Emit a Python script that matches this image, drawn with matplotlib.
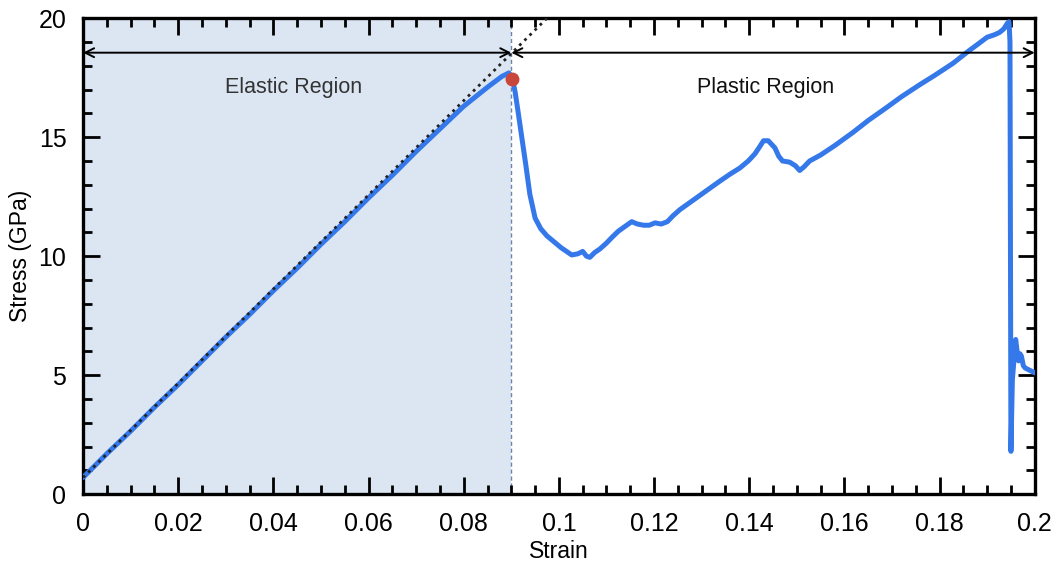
import matplotlib
matplotlib.use("Agg")
import matplotlib.pyplot as plt
from matplotlib.ticker import MultipleLocator

plt.rcParams['font.family'] = ['Liberation Sans', 'DejaVu Sans']

# Elastic part of the stress-strain curve
strain_elastic = [0.0, 0.005, 0.01, 0.015, 0.02, 0.025, 0.03, 0.035, 0.04, 0.045,
                  0.05, 0.055, 0.06, 0.065, 0.07, 0.075, 0.08, 0.085, 0.088, 0.0895, 0.0902]
stress_elastic = [0.7, 1.7, 2.65, 3.65, 4.6, 5.6, 6.6, 7.55, 8.55, 9.5,
                  10.5, 11.45, 12.45, 13.4, 14.4, 15.35, 16.3, 17.1, 17.55, 17.7, 17.5]

# Plastic part
strain_plastic = [0.0902, 0.0908, 0.0914, 0.0922, 0.0930, 0.0939, 0.0950, 0.0962, 0.0975,
                  0.0990, 0.1005, 0.1027, 0.1040, 0.1050, 0.1058, 0.1065, 0.1075, 0.1086,
                  0.1100, 0.1112, 0.1125, 0.1139, 0.1153, 0.1165, 0.1178, 0.1190, 0.1202,
                  0.1215, 0.1228, 0.1240, 0.1254, 0.1275, 0.1296, 0.1317, 0.1338, 0.1360,
                  0.1380, 0.1398, 0.1412, 0.1422, 0.1430, 0.1440, 0.1454, 0.1462, 0.1470,
                  0.1485, 0.1497, 0.1506, 0.1515, 0.1527, 0.1550, 0.1580, 0.1618, 0.1650,
                  0.1689, 0.1720, 0.1758, 0.1790, 0.1828, 0.1863, 0.1880, 0.1900, 0.1915,
                  0.1926, 0.1935, 0.1943, 0.1946, 0.1948, 0.1950,
                  0.1953, 0.1957, 0.1960, 0.1963, 0.1966, 0.1969, 0.1972, 0.1976, 0.1980,
                  0.1990, 0.2000]
stress_plastic = [17.5, 16.9, 16.1, 15.0, 13.9, 12.6, 11.6, 11.15, 10.85,
                  10.6, 10.35, 10.05, 10.1, 10.2, 10.0, 9.95, 10.15, 10.3,
                  10.55, 10.8, 11.05, 11.25, 11.45, 11.35, 11.3, 11.3, 11.4,
                  11.35, 11.45, 11.7, 11.95, 12.25, 12.55, 12.85, 13.15, 13.45,
                  13.7, 14.0, 14.3, 14.6, 14.85, 14.85, 14.55, 14.2, 14.0,
                  13.95, 13.8, 13.6, 13.75, 14.0, 14.25, 14.65, 15.2, 15.7,
                  16.25, 16.7, 17.2, 17.6, 18.1, 18.65, 18.9, 19.2, 19.3,
                  19.4, 19.55, 19.8, 19.85, 19.0, 1.8,
                  4.8, 5.8, 6.5, 6.0, 5.6, 5.9, 5.8, 5.4, 5.3,
                  5.2, 5.1]

# Linear fit (dotted) and yield point
fit_strain = [0.0, 0.0975]
fit_stress = [0.7, 20.0]
yield_strain = 0.0902
yield_stress = 17.45
elastic_limit = 0.09
arrow_y = 18.55

xticks = [0, 0.02, 0.04, 0.06, 0.08, 0.1, 0.12, 0.14, 0.16, 0.18, 0.2]
xticklabels = ['0', '0.02', '0.04', '0.06', '0.08', '0.1', '0.12', '0.14', '0.16', '0.18', '0.2']
yticks = [0, 5, 10, 15, 20]

fig = plt.figure(figsize=(10.58, 5.68), dpi=100)
ax = fig.add_axes([0.0785, 0.130, 0.8995, 0.838])

ax.axvspan(0, elastic_limit, color='#dce6f3', zorder=0, lw=0)
ax.axvline(elastic_limit, color='#6a86a8', lw=1.0, ls=(0, (3, 2)), zorder=1)

strain_all = strain_elastic + strain_plastic[1:]
stress_all = stress_elastic + stress_plastic[1:]
ax.plot(strain_all, stress_all, color='#3578ea', lw=3.6, solid_joinstyle='round',
        solid_capstyle='round', zorder=3)
ax.plot(fit_strain, fit_stress, color='#222222', lw=2.0, ls=(0, (1, 1.6)), zorder=4,
        clip_on=True)
ax.plot([yield_strain], [yield_stress], 'o', color='#c9463d', ms=9, zorder=5)

arrow_kw = dict(arrowstyle='<->', color='black', lw=1.4, mutation_scale=16,
                shrinkA=0, shrinkB=0)
ax.annotate('', xy=(0, arrow_y), xytext=(elastic_limit, arrow_y), arrowprops=arrow_kw, zorder=6)
ax.annotate('', xy=(elastic_limit, arrow_y), xytext=(0.2, arrow_y), arrowprops=arrow_kw, zorder=6)

ax.text(0.0443, 17.1, 'Elastic Region', ha='center', va='center', fontsize=15.5, color='#333333')
ax.text(0.1435, 17.1, 'Plastic Region', ha='center', va='center', fontsize=15.5, color='#111111')

ax.set_xlim(0, 0.2)
ax.set_ylim(0, 20)
ax.set_xticks(xticks)
ax.set_xticklabels(xticklabels)
ax.set_yticks(yticks)
ax.xaxis.set_minor_locator(MultipleLocator(0.005))
ax.yaxis.set_minor_locator(MultipleLocator(1))
ax.tick_params(which='both', direction='in', top=True, right=True, width=2.0,
               labelsize=18, colors='black')
ax.tick_params(axis='x', which='major', length=12, pad=13)
ax.tick_params(axis='y', which='major', length=12, pad=12)
ax.tick_params(which='minor', length=6.5)
for s in ax.spines.values():
    s.set_linewidth(2.4)

ax.set_xlabel('Strain', fontsize=16.5, labelpad=3)
ax.set_ylabel('Stress (GPa)', fontsize=16.5, labelpad=5)

fig.savefig('out.png', dpi=100)
